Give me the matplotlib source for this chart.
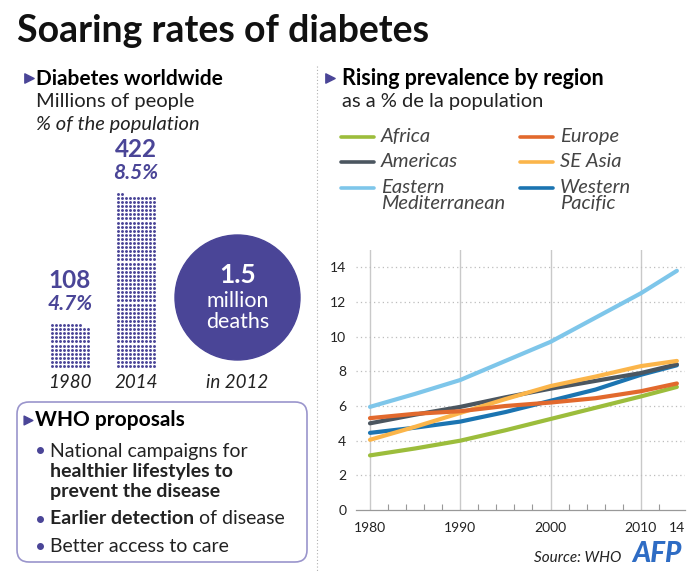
import matplotlib
matplotlib.use("Agg")
import matplotlib.pyplot as plt
from matplotlib.patches import Circle, FancyBboxPatch
from matplotlib.lines import Line2D

plt.rcParams['font.family'] = ['Lato', 'DejaVu Sans']

# ---- data -------------------------------------------------------------
count_years = ['1980', '2014']
people_millions = [108, 422]
people_pct = ['4.7%', '8.5%']
deaths_millions = '1.5'

years = [1980, 1985, 1990, 1995, 2000, 2005, 2010, 2014]
africa = [3.15, 3.55, 4.0, 4.6, 5.25, 5.9, 6.55, 7.1]
americas = [5.0, 5.5, 5.95, 6.5, 7.0, 7.45, 7.9, 8.4]
east_med = [5.95, 6.7, 7.5, 8.6, 9.7, 11.1, 12.5, 13.8]
europe = [5.3, 5.55, 5.7, 6.0, 6.2, 6.45, 6.85, 7.3]
se_asia = [4.05, 4.8, 5.6, 6.4, 7.15, 7.7, 8.3, 8.6]
w_pacific = [4.45, 4.75, 5.1, 5.65, 6.3, 6.95, 7.8, 8.35]

region_names = ['Africa', 'Americas', 'Eastern\nMediterranean',
                'Europe', 'SE Asia', 'Western\nPacific']
region_values = [africa, americas, east_med, europe, se_asia, w_pacific]
region_colors = ['#9cbd3c', '#4b5660', '#7ec6ea', '#e2692d', '#fbb54a', '#1b74b1']

xtick_pos = [1980, 1990, 2000, 2010, 2014]
xtick_labels = ['1980', '1990', '2000', '2010', '14']

purple = '#4a4597'
ink = '#222222'

fig = plt.figure(figsize=(7, 5.76), dpi=100)

# full-figure canvas in pixel units for the infographic parts
ax0 = fig.add_axes([0, 0, 1, 1])
ax0.set_xlim(0, 700)
ax0.set_ylim(576, 0)
ax0.axis('off')

ax0.text(17, 42, 'Soaring rates of diabetes', fontsize=27, fontweight='bold',
         va='baseline', ha='left', color='#111111')

# separator
ax0.plot([317, 317], [66, 572], color='#b0b0b0', lw=0.8, ls=(0, (1, 2)))

# left header
ax0.scatter([29, 330], [78, 78], marker='>', s=45, color=purple, zorder=3)
ax0.text(36, 85, 'Diabetes worldwide', fontsize=15, fontweight='bold', va='baseline')
ax0.text(36, 107, 'Millions of people', fontsize=14.5, va='baseline', color=ink)
ax0.text(36, 130, '% of the population', fontsize=14.5, style='italic', va='baseline',
         color=ink)

# dot columns: one dot per million people, 10 per row
col_centers = [70, 136]
step = 4.1
for cx, n, yr, pct in zip(col_centers, people_millions, count_years, people_pct):
    xs, ys = [], []
    for i in range(n):
        r, c = divmod(i, 10)
        xs.append(cx - 4.5 * step + c * step)
        ys.append(366 - r * step)
    ax0.scatter(xs, ys, s=4.4, color=purple, marker='o', linewidths=0)
    top = 366 - ((n - 1) // 10) * step
    ax0.text(cx, top - 37, str(n), fontsize=17.5, fontweight='bold', color=purple,
             ha='center', va='baseline')
    ax0.text(cx, top - 15, pct, fontsize=15, fontweight='bold', style='italic',
             color=purple, ha='center', va='baseline')
    ax0.text(cx, 388, yr, fontsize=13.5, style='italic', ha='center', va='baseline',
             color=ink)

# deaths circle
ax0.add_patch(Circle((237.5, 297.5), 62.5, color=purple, zorder=2))
ax0.text(237.5, 283, deaths_millions, fontsize=19, fontweight='bold', color='white',
         ha='center', va='baseline', zorder=3)
ax0.text(237.5, 307, 'million', fontsize=15.5, color='white', ha='center',
         va='baseline', zorder=3)
ax0.text(237.5, 328, 'deaths', fontsize=15.5, color='white', ha='center',
         va='baseline', zorder=3)
ax0.text(237.5, 388, 'in 2012', fontsize=13.5, style='italic', ha='center',
         va='baseline', color=ink)

# WHO box
ax0.add_patch(FancyBboxPatch((17, 402), 290, 160, boxstyle='round,pad=0,rounding_size=12',
                             facecolor='white', edgecolor='#9a95cc', lw=1.2))
ax0.scatter([28], [420], marker='>', s=40, color=purple, zorder=3)
ax0.text(35, 426, 'WHO proposals', fontsize=15, fontweight='bold', va='baseline')
ax0.scatter([40, 40, 40], [450, 519, 546], s=16, color=purple, zorder=3)
ax0.text(50, 457, 'National campaigns for', fontsize=14, va='baseline', color=ink)
ax0.text(50, 477, 'healthier lifestyles to', fontsize=14, fontweight='bold',
         va='baseline', color=ink)
ax0.text(50, 497, 'prevent the disease', fontsize=14, fontweight='bold',
         va='baseline', color=ink)
t = ax0.text(50, 524, 'Earlier detection', fontsize=14, fontweight='bold',
             va='baseline', color=ink)
ax0.annotate(' of disease', xy=(1, 0), xycoords=t, fontsize=14, va='bottom',
             ha='left', color=ink)
ax0.text(50, 552, 'Better access to care', fontsize=14, va='baseline', color=ink)

# right header
ax0.text(342, 85, 'Rising prevalence by region', fontsize=15.5, fontweight='bold',
         va='baseline')
ax0.text(342, 107, 'as a % de la population', fontsize=14.5, va='baseline', color=ink)

# legend
leg_x = [341, 520]
leg_y = [137, 162, 188]
for k, (name, col) in enumerate(zip(region_names, region_colors)):
    cx = leg_x[k // 3]
    cy = leg_y[k % 3]
    ax0.add_line(Line2D([cx, cx + 33], [cy, cy], color=col, lw=2.6,
                        solid_capstyle='round'))
    ax0.text(cx + 40, cy - 9, name, fontsize=14.5, style='italic',
             color='#444444', va='top', ha='left', linespacing=0.9)

# source / logo
ax0.text(534, 562, 'Source: WHO', fontsize=11, style='italic', va='baseline', color=ink)
ax0.text(632, 562, 'AFP', fontsize=20, fontweight='black', style='italic',
         color='#2e6cc4', va='baseline')

# ---- line chart -------------------------------------------------------
ax = fig.add_axes([356 / 700, 66 / 576, 329 / 700, 260 / 576])
ax.set_xlim(1978.45, 2014.9)
ax.set_ylim(0, 15)
for xv in [1980, 1990, 2000, 2010]:
    ax.axvline(xv, color='#c9c9c9', lw=1, zorder=0)
for yv in range(2, 15, 2):
    ax.axhline(yv, color='#bdbdbd', lw=0.9, ls=(0, (1, 2.5)), zorder=0)

order = [2, 0, 5, 1, 4, 3]
for idx in order:
    ax.plot(years, region_values[idx], color=region_colors[idx], lw=3,
            solid_capstyle='round', solid_joinstyle='round', zorder=2)

ax.set_yticks(range(0, 15, 2))
ax.set_xticks(xtick_pos)
ax.set_xticklabels(xtick_labels)
ax.set_xticks(range(1982, 2015, 2), minor=True)
ax.tick_params(axis='x', which='major', length=0, pad=9, labelsize=10, labelcolor=ink)
ax.tick_params(axis='x', which='minor', direction='in', length=4, width=0.8,
               color='#999999')
ax.tick_params(axis='y', length=0, pad=7, labelsize=10, labelcolor=ink)
for s in ['top', 'right', 'left']:
    ax.spines[s].set_visible(False)
ax.spines['bottom'].set_color('#999999')
ax.spines['bottom'].set_linewidth(0.9)
ax.patch.set_alpha(0)

fig.savefig('out.png', dpi=100)
